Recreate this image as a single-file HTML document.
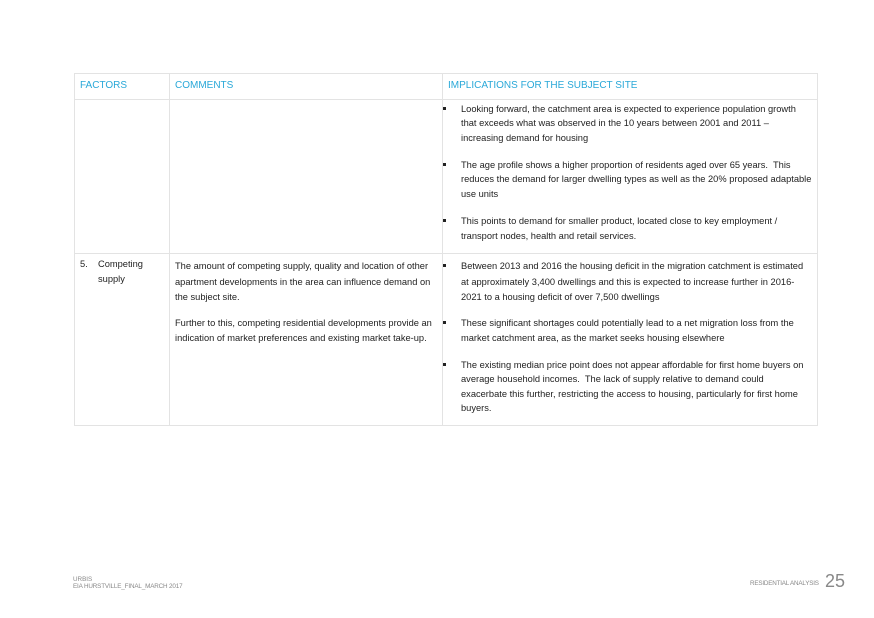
<!DOCTYPE html>
<html><head><meta charset="utf-8"><style>
body{margin:0;width:874px;height:618px;background:#fff;position:relative;overflow:hidden;font-family:"Liberation Sans",Arial,sans-serif;}
.t{position:absolute;font-size:9.3px;line-height:12px;color:#222;white-space:nowrap;margin-top:2px;}
.h{color:#29a8d8;font-size:10px;}
.ln{position:absolute;background:#e3e3e3;}
.b{position:absolute;width:3px;height:3px;background:#222;margin-top:2px;}
.f{position:absolute;color:#888;font-size:6.3px;line-height:8px;white-space:nowrap;}
</style></head><body>
<div class="ln" style="left:74px;top:73px;width:743px;height:1px"></div>
<div class="ln" style="left:74px;top:99px;width:743px;height:1px"></div>
<div class="ln" style="left:74px;top:253px;width:743px;height:1px"></div>
<div class="ln" style="left:74px;top:425px;width:743px;height:1px"></div>
<div class="ln" style="left:74px;top:73px;width:1px;height:353px"></div>
<div class="ln" style="left:169px;top:73px;width:1px;height:353px"></div>
<div class="ln" style="left:442px;top:73px;width:1px;height:353px"></div>
<div class="ln" style="left:817px;top:73px;width:1px;height:353px"></div>

<div class="t h" style="left:80px;top:78px">FACTORS</div>
<div class="t h" style="left:175px;top:78px">COMMENTS</div>
<div class="t h" style="left:448px;top:78px">IMPLICATIONS FOR THE SUBJECT SITE</div>

<div class="b" style="left:443px;top:105px"></div>
<div class="t" style="left:461px;top:101px">Looking forward, the catchment area is expected to experience population growth</div>
<div class="t" style="left:461px;top:115px">that exceeds what was observed in the 10 years between 2001 and 2011 –</div>
<div class="t" style="left:461px;top:130px">increasing demand for housing</div>
<div class="b" style="left:443px;top:161px"></div>
<div class="t" style="left:461px;top:157px">The age profile shows a higher proportion of residents aged over 65 years.&nbsp; This</div>
<div class="t" style="left:461px;top:171px">reduces the demand for larger dwelling types as well as the 20% proposed adaptable</div>
<div class="t" style="left:461px;top:186px">use units</div>
<div class="b" style="left:443px;top:217px"></div>
<div class="t" style="left:461px;top:213px">This points to demand for smaller product, located close to key employment /</div>
<div class="t" style="left:461px;top:228px">transport nodes, health and retail services.</div>

<div class="t" style="left:80px;top:256px">5.</div>
<div class="t" style="left:98px;top:256px">Competing</div>
<div class="t" style="left:98px;top:271px">supply</div>

<div class="t" style="left:175px;top:258px">The amount of competing supply, quality and location of other</div>
<div class="t" style="left:175px;top:274px">apartment developments in the area can influence demand on</div>
<div class="t" style="left:175px;top:289px">the subject site.</div>
<div class="t" style="left:175px;top:315px">Further to this, competing residential developments provide an</div>
<div class="t" style="left:175px;top:330px">indication of market preferences and existing market take-up.</div>

<div class="b" style="left:443px;top:262px"></div>
<div class="t" style="left:461px;top:258px">Between 2013 and 2016 the housing deficit in the migration catchment is estimated</div>
<div class="t" style="left:461px;top:274px">at approximately 3,400 dwellings and this is expected to increase further in 2016-</div>
<div class="t" style="left:461px;top:289px">2021 to a housing deficit of over 7,500 dwellings</div>
<div class="b" style="left:443px;top:319px"></div>
<div class="t" style="left:461px;top:315px">These significant shortages could potentially lead to a net migration loss from the</div>
<div class="t" style="left:461px;top:330px">market catchment area, as the market seeks housing elsewhere</div>
<div class="b" style="left:443px;top:361px"></div>
<div class="t" style="left:461px;top:357px">The existing median price point does not appear affordable for first home buyers on</div>
<div class="t" style="left:461px;top:371px">average household incomes.&nbsp; The lack of supply relative to demand could</div>
<div class="t" style="left:461px;top:386px">exacerbate this further, restricting the access to housing, particularly for first home</div>
<div class="t" style="left:461px;top:400px">buyers.</div>

<div class="f" style="left:73px;top:576px">URBIS</div>
<div class="f" style="left:73px;top:583px;letter-spacing:-0.15px">EIA HURSTVILLE_FINAL_MARCH 2017</div>
<div class="f" style="left:750px;top:580px;letter-spacing:-0.2px">RESIDENTIAL ANALYSIS</div>
<div style="position:absolute;left:825px;top:571px;font-size:18px;color:#888;line-height:20px;">25</div>
</body></html>
